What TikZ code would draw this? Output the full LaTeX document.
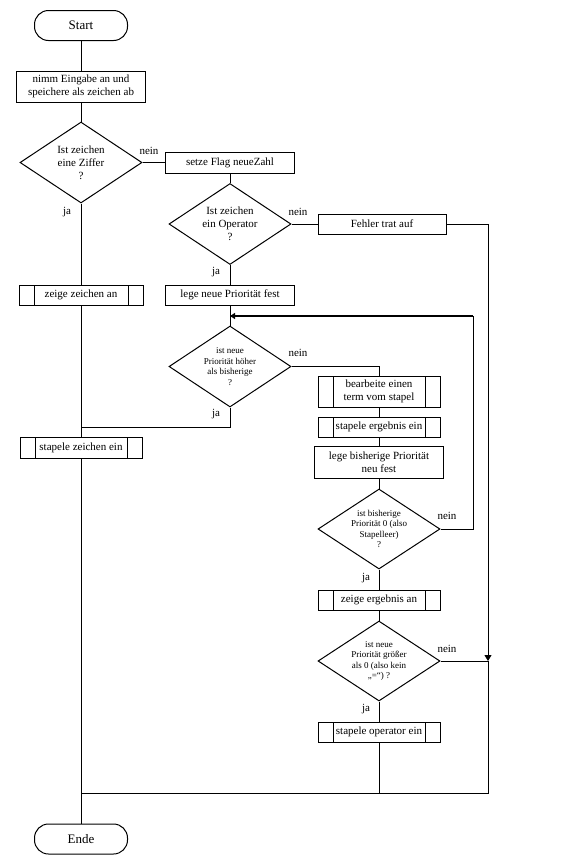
\documentclass[tikz,border=0pt]{standalone}
\usepackage{fontspec}
\setmainfont{Liberation Serif}
\usetikzlibrary{shapes.geometric,arrows.meta}
\begin{document}
\begin{tikzpicture}[x=1pt,y=-1pt,line width=1pt,
  base/.style={draw,inner sep=0pt,align=center,font=\fontsize{11}{13}\selectfont},
  proc/.style={base,rectangle},
  term/.style={base,rectangle,rounded corners=14pt,minimum width=93pt,minimum height=30pt,font=\fontsize{13}{15}\selectfont},
  pre/.style={proc,path picture={
    \draw ([xshift=15pt]path picture bounding box.north west) -- ([xshift=15pt]path picture bounding box.south west);
    \draw ([xshift=-15pt]path picture bounding box.north east) -- ([xshift=-15pt]path picture bounding box.south east);}},
  dec/.style={base,diamond,aspect=1.5,minimum width=122pt,minimum height=81pt},
  small/.style={font=\fontsize{9}{10.5}\selectfont},
  lab/.style={inner sep=0pt,font=\fontsize{11}{13}\selectfont},
  tip/.style={-{Triangle[length=6pt,width=7pt]}}]
\fill[white] (0,0) rectangle (575,863);
\useasboundingbox (0,0) rectangle (575,863);

% left column
\node[term] (start) at (81,25.5) {Start};
\node[proc,minimum width=129pt,minimum height=31pt] (b1) at (81,86.5) {nimm Eingabe an und\\speichere als zeichen ab};
\node[dec] (d1) at (81,162.5) {Ist zeichen\\eine Ziffer\\?};
\node[pre,minimum width=124pt,minimum height=20pt] (zeige) at (81,295) {zeige zeichen an};
\node[pre,minimum width=122pt,minimum height=21pt] (stapz) at (81,447.5) {stapele zeichen ein};
\node[term] (ende) at (81,839) {Ende};

% middle column
\node[proc,minimum width=129pt,minimum height=21pt] (b2) at (230,162.5) {setze Flag neueZahl};
\node[dec] (d2) at (230,224) {Ist zeichen\\ein Operator\\?};
\node[proc,minimum width=128pt,minimum height=20pt] (b3) at (382,224) {Fehler trat auf};
\node[proc,minimum width=129pt,minimum height=20pt] (b4) at (230,295) {lege neue Priorität fest};
\node[dec,small] (d3) at (230,366.5) {ist neue\\Priorität höher\\als bisherige\\?};

% right column
\node[pre,minimum width=122pt,minimum height=31pt] (bearb) at (379,391.5) {bearbeite einen\\term vom stapel};
\node[pre,minimum width=122pt,minimum height=20pt] (sterg) at (379,427) {stapele ergebnis ein};
\node[proc,minimum width=129pt,minimum height=32pt] (legbis) at (379,462) {lege bisherige Priorität\\neu fest};
\node[dec,small,minimum height=80pt] (d4) at (379,529) {ist bisherige\\Priorität 0 (also\\Stapelleer)\\?};
\node[pre,minimum width=122pt,minimum height=20pt] (zeigerg) at (379,600) {zeige ergebnis an};
\node[dec,small,minimum height=80pt] (d5) at (379,661) {ist neue\\Priorität größer\\als 0 (also kein\\„=“) ?};
\node[pre,minimum width=122pt,minimum height=20pt] (stop) at (379,732) {stapele operator ein};

% labels
\node[lab] (l1n) at (149,151) {nein};
\node[lab] (l1j) at (67,212) {ja};
\node[lab] (l2n) at (298,212) {nein};
\node[lab] (l2j) at (216,272) {ja};
\node[lab] (l3n) at (298,353) {nein};
\node[lab] (l3j) at (216,414) {ja};
\node[lab] (l4n) at (447,516) {nein};
\node[lab] (l4j) at (366,578) {ja};
\node[lab] (l5n) at (447,649) {nein};
\node[lab] (l5j) at (366,709) {ja};

% coordinates
\coordinate (lp) at (230,316);
\coordinate (lr) at (473,316);
\coordinate (j3) at (81,427);
\coordinate (jr) at (488,661);
\coordinate (br) at (488,793);
\coordinate (bl) at (81,793);
\coordinate (bm) at (379,793);

% connectors
\draw (start) -- (b1);
\draw (b1) -- (d1);
\draw (d1.east) -- (b2.west);
\draw (b2) -- (d2);
\draw (d2.east) -- (b3.west);
\draw (d2) -- (b4);
\draw (b4) -- (d3);
\draw (d1) -- (zeige);
\draw (zeige) -- (stapz);
\draw (stapz) -- (ende);
\draw (d3.south) |- (j3);
\draw (d3.east) -| (bearb.north);
\draw (bearb) -- (sterg);
\draw (sterg) -- (legbis);
\draw (legbis) -- (d4);
\draw (d4) -- (zeigerg);
\draw (zeigerg) -- (d5);
\draw (d5) -- (stop);
\draw (d4.east) -| (lr);
\draw[line width=2pt,-{Triangle[length=5pt,width=6pt]}] (lr) -- (lp);
\draw[tip] (b3.east) -| (jr);
\draw (d5.east) -- (jr);
\draw (jr) -- (br) -- (bl);
\draw (stop) -- (bm);
\end{tikzpicture}
\end{document}
